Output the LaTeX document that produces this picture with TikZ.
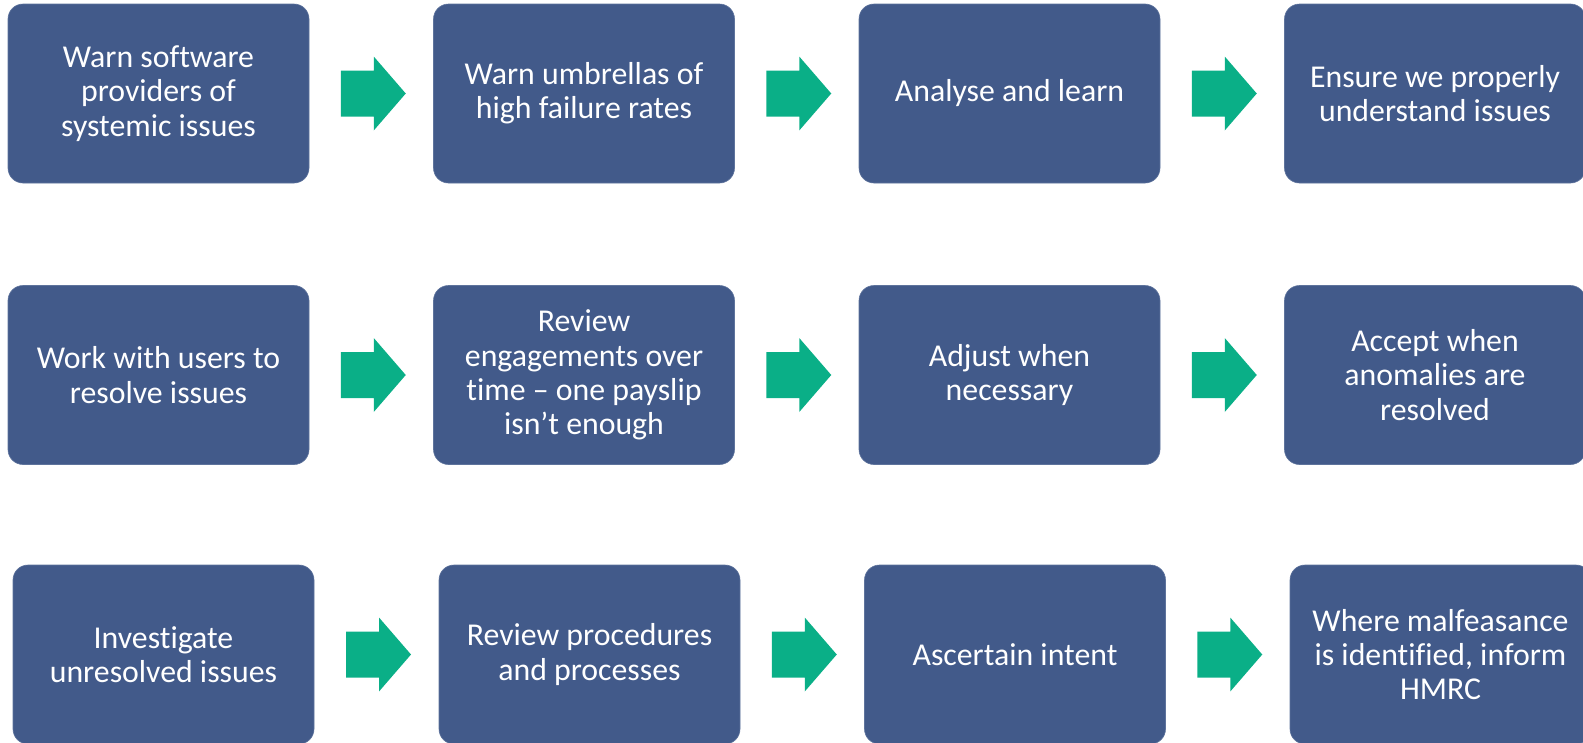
\documentclass[tikz,border=0pt]{standalone}
\usepackage{fontspec}
\setmainfont{Carlito}[Ligatures=NoCommon]
\usetikzlibrary{calc}
\definecolor{boxblue}{RGB}{66,90,138}
\definecolor{arrowgreen}{RGB}{10,175,135}
\tikzset{
  stepbox/.style={rectangle, rounded corners=15pt, fill=boxblue, draw=boxblue!85!white, line width=0.6pt,
    minimum width=301pt, minimum height=179pt, inner sep=0pt, text=white, align=center,
    font=\fontsize{31.8}{34.3}\selectfont},
  greenarrow/.style={fill=arrowgreen}
}
\newcommand\blockarrow[2]{%
  \path ($(#1.east)!0.5!(#2.west)+(2,0)$) coordinate (m-#1);
  \fill[greenarrow] ($(m-#1)+(-32.5,-23)$) -- ($(m-#1)+(0.5,-23)$) -- ($(m-#1)+(0.5,-37)$)
    -- ($(m-#1)+(32.5,0)$) -- ($(m-#1)+(0.5,37)$) -- ($(m-#1)+(0.5,23)$)
    -- ($(m-#1)+(-32.5,23)$) -- cycle;}
\begin{document}
\begin{tikzpicture}[x=1pt,y=-1pt]
\useasboundingbox (0,0) rectangle (1583,742);
% row 1
\node[stepbox] (a1) at (158.5,93.5) {Warn software\\providers of\\systemic issues};
\node[stepbox] (a2) at (584,93.5) {Warn umbrellas of\\high failure rates};
\node[stepbox] (a3) at (1009.5,93.5) {Analyse and learn};
\node[stepbox] (a4) at (1435,93.5) {Ensure we properly\\understand issues};
% row 2
\node[stepbox] (b1) at (158.5,375) {Work with users to\\resolve issues};
\node[stepbox] (b2) at (584,375) {Review\\engagements over\\time – one payslip\\isn’t enough};
\node[stepbox] (b3) at (1009.5,375) {Adjust when\\necessary};
\node[stepbox] (b4) at (1435,375) {Accept when\\anomalies are\\resolved};
% row 3
\node[stepbox] (c1) at (163.5,654.5) {Investigate\\unresolved issues};
\node[stepbox] (c2) at (589.5,654.5) {Review procedures\\and processes};
\node[stepbox] (c3) at (1015,654.5) {Ascertain intent};
\node[stepbox] (c4) at (1440.5,654.5) {Where malfeasance\\is identified, inform\\HMRC};
% arrows
\blockarrow{a1}{a2}\blockarrow{a2}{a3}\blockarrow{a3}{a4}
\blockarrow{b1}{b2}\blockarrow{b2}{b3}\blockarrow{b3}{b4}
\blockarrow{c1}{c2}\blockarrow{c2}{c3}\blockarrow{c3}{c4}
\end{tikzpicture}
\end{document}
